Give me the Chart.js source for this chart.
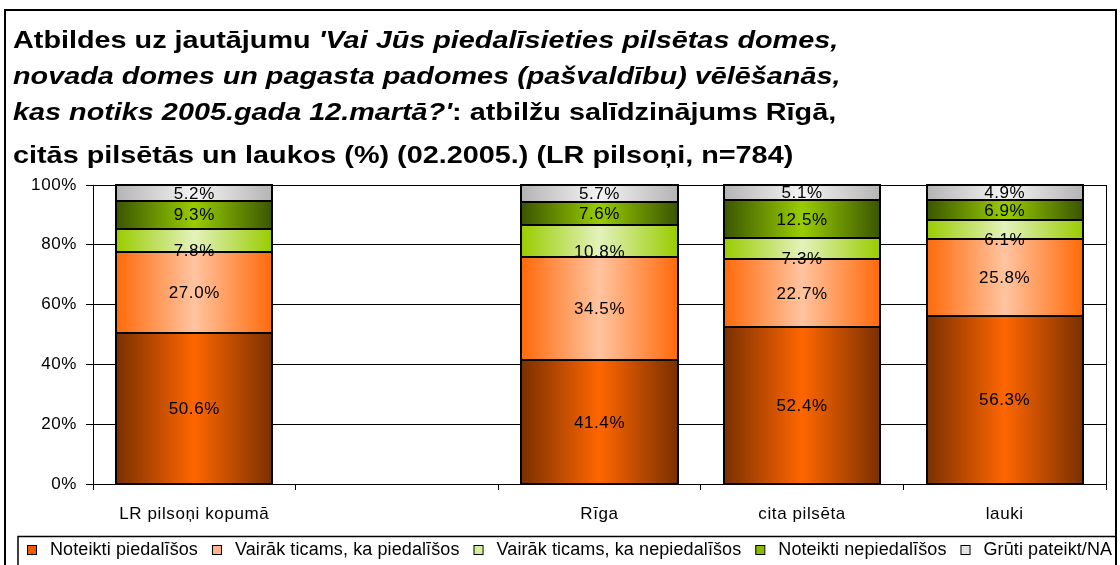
<!DOCTYPE html>
<html>
<head>
<meta charset="utf-8">
<script src="https://cdn.jsdelivr.net/npm/chart.js@4/dist/chart.umd.min.js"></script>
<style>
  html, body { margin: 0; padding: 0; background: #fff; overflow: hidden; }
  #wrap { position: relative; width: 1120px; height: 565px; }
  #title {
    position: absolute; left: 13px; top: 22px;
    font: bold 24px Arial, "Liberation Sans", sans-serif;
    line-height: 36px; white-space: nowrap; color: #000;
    transform: scaleX(1.2); transform-origin: left top;
  }
  #title .last { margin-top: 7px; }
  canvas { position: absolute; left: 0; top: 0; }
</style>
</head>
<body>
<div id="wrap">
  <canvas id="chart" width="1120" height="565"></canvas>
  <div id="title">
    <div>Atbildes uz jautājumu <i>'Vai Jūs piedalīsieties pilsētas domes,</i></div>
    <div><i>novada domes un pagasta padomes (pašvaldību) vēlēšanās,</i></div>
    <div><i>kas notiks 2005.gada 12.martā?'</i>: atbilžu salīdzinājums Rīgā,</div>
    <div class="last">citās pilsētās un laukos (%) (02.2005.) (LR pilsoņi, n=784)</div>
  </div>
</div>
<script>
// categories (second slot is an empty gap in the original)
let categories = ['LR pilsoņi kopumā', '', 'Rīga', 'cita pilsēta', 'lauki'];
let seriesNames = ['Noteikti piedalīšos', 'Vairāk ticams, ka piedalīšos', 'Vairāk ticams, ka nepiedalīšos', 'Noteikti nepiedalīšos', 'Grūti pateikt/NA'];

let definitelyYes = [50.6, null, 41.4, 52.4, 56.3];
let probablyYes = [27.0, null, 34.5, 22.7, 25.8];
let probablyNo = [7.8, null, 10.8, 7.3, 6.1];
let definitelyNo = [9.3, null, 7.6, 12.5, 6.9];
let hardToSay = [5.2, null, 5.7, 5.1, 4.9];

let yTicks = [0, 20, 40, 60, 80, 100];

const FONT = 'Arial, "Liberation Sans", sans-serif';
const BAR_PCT = 0.77;

// edge / centre colours for the horizontal gradients
let fills = [
    ['#7a3000', '#ff6600'],
    ['#ff6a0a', '#ffc4a0'],
    ['#99cc00', '#e4f2bc'],
    ['#3a5600', '#99cc00'],
    ['#b4b4b4', '#f4f4f4']
];
let legendColors = ['#ee5a00', '#ffb48a', '#d4ee99', '#88bb00', '#e4e4e4'];

function barFill(i) {
    return function (ctx) {
        let chart = ctx.chart;
        if (!chart.chartArea) return fills[i][1];
        let x = chart.scales.x;
        let cx = x.getPixelForValue(ctx.dataIndex);
        let w = x.width / categories.length * BAR_PCT;
        let g = chart.ctx.createLinearGradient(cx - w / 2, 0, cx + w / 2, 0);
        g.addColorStop(0, fills[i][0]);
        g.addColorStop(0.5, fills[i][1]);
        g.addColorStop(1, fills[i][0]);
        return g;
    };
}

let seriesData = [definitelyYes, probablyYes, probablyNo, definitelyNo, hardToSay];
let datasets = seriesData.map((d, i) => ({
    label: seriesNames[i],
    data: d,
    backgroundColor: barFill(i),
    borderWidth: 0,
    barPercentage: BAR_PCT,
    categoryPercentage: 1
}));

// frame round the plot, segment outlines, value labels, legend and outer border
const extras = {
    id: 'extras',
    beforeDraw(chart) {
        chart.ctx.letterSpacing = '0.6px';
    },
    beforeDatasetsDraw(chart) {
        let { ctx, chartArea: a } = chart;
        ctx.save();
        ctx.strokeStyle = '#000';
        ctx.lineWidth = 1;
        ctx.strokeRect(a.left + 0.5, a.top + 0.5, a.right - a.left, a.bottom - a.top);
        ctx.restore();
    },
    afterDatasetsDraw(chart) {
        let ctx = chart.ctx;
        ctx.save();
        ctx.strokeStyle = '#000';
        ctx.lineWidth = 2;
        chart.data.datasets.forEach((ds, i) => {
            chart.getDatasetMeta(i).data.forEach((bar, j) => {
                if (ds.data[j] == null) return;
                let l = Math.round(bar.x - bar.width / 2);
                let r = Math.round(bar.x + bar.width / 2);
                let t = Math.round(bar.y);
                let b = Math.round(bar.base);
                ctx.strokeRect(l, t, r - l, b - t);
            });
        });
        ctx.font = '17px ' + FONT;
        ctx.fillStyle = '#000';
        ctx.textAlign = 'center';
        ctx.textBaseline = 'middle';
        chart.data.datasets.forEach((ds, i) => {
            chart.getDatasetMeta(i).data.forEach((bar, j) => {
                let v = ds.data[j];
                if (v == null) return;
                let y = (bar.y + bar.base) / 2;
                if (i === 2) y += 10;
                ctx.fillText(v.toFixed(1) + '%', bar.x, y + 1);
            });
        });
        ctx.restore();
    },
    afterDraw(chart) {
        let ctx = chart.ctx;
        ctx.save();
        ctx.letterSpacing = '0.1px';
        ctx.beginPath();
        ctx.rect(0, 0, 1115, 565);
        ctx.clip();
        ctx.lineWidth = 1.5;
        ctx.strokeStyle = '#000';
        ctx.strokeRect(18, 536.5, 1200, 100);
        ctx.font = '18px ' + FONT;
        ctx.textBaseline = 'middle';
        let x = 27;
        seriesNames.forEach((name, i) => {
            ctx.fillStyle = legendColors[i];
            ctx.fillRect(x, 545, 9, 9);
            ctx.lineWidth = 1;
            ctx.strokeRect(x + 0.5, 545.5, 9, 9);
            ctx.fillStyle = '#000';
            ctx.fillText(name, x + 23, 550);
            x += 23 + ctx.measureText(name).width + 14;
        });
        ctx.restore();
        ctx.save();
        ctx.lineWidth = 2;
        ctx.strokeStyle = '#000';
        ctx.strokeRect(5, 10, 1111, 600);
        ctx.restore();
    }
};

new Chart(document.getElementById('chart'), {
    type: 'bar',
    data: { labels: categories, datasets: datasets },
    plugins: [extras],
    options: {
        responsive: false,
        animation: false,
        layout: { padding: { top: 185, right: 14, bottom: 0, left: 0 } },
        plugins: {
            legend: { display: false },
            title: { display: false },
            tooltip: { enabled: false }
        },
        scales: {
            x: {
                stacked: true,
                afterFit: (s) => { s.height = 81; },
                grid: {
                    offset: true,
                    drawOnChartArea: false,
                    tickLength: 6,
                    tickColor: '#000',
                    color: '#000'
                },
                border: { color: '#000', width: 1 },
                ticks: { color: '#000', font: { family: FONT, size: 17 }, padding: 14, maxRotation: 0 }
            },
            y: {
                stacked: true,
                min: 0,
                max: 100,
                afterFit: (s) => { s.width = 93; },
                afterBuildTicks: (s) => { s.ticks = yTicks.map(v => ({ value: v })); },
                grid: { color: '#000', lineWidth: 1, tickLength: 7, tickColor: '#000' },
                border: { color: '#000', width: 1 },
                ticks: {
                    color: '#000',
                    font: { family: FONT, size: 17 },
                    padding: 9,
                    callback: (v) => v + '%'
                }
            }
        }
    }
});
</script>
</body>
</html>
